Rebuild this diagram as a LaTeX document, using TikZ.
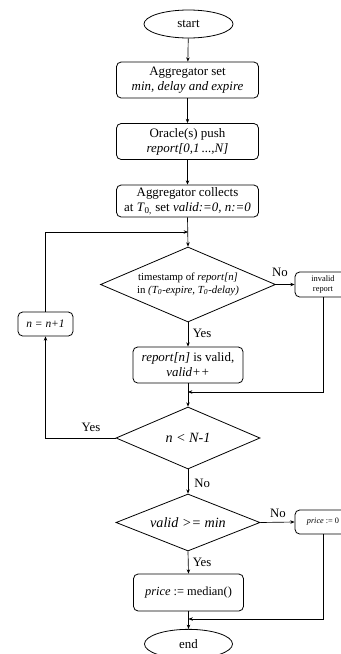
\documentclass[tikz,border=0pt]{standalone}
\usepackage{fontspec}
\setmainfont{Liberation Serif}
\usetikzlibrary{shapes.geometric,arrows.meta}
\tikzset{
  base/.style={draw, line width=0.6pt, inner sep=0pt, align=center, font=\fontsize{9.7}{11.2}\selectfont},
  proc/.style={base, rectangle, rounded corners=3.5pt},
  term/.style={base, ellipse},
  dec/.style={base, diamond},
  arr/.style={-{Stealth[length=3.2pt,width=2.6pt]}, line width=0.5pt},
  ln/.style={line width=0.5pt},
  lbl/.style={inner sep=0pt, font=\fontsize{9.6}{11}\selectfont}
}
\begin{document}
\begin{tikzpicture}[x=0.75pt,y=-0.75pt]
\clip (0,0) rectangle (341,654);
\fill[white] (0,0) rectangle (341,654);
\node[term, minimum width=66.75pt, minimum height=21pt] (start) at (188.5,24) {start};
\node[proc, minimum width=106.5pt, minimum height=27pt] (b1) at (187.5,80)
  {Aggregator set\\\textit{min, delay and expire}};
\node[proc, minimum width=106.5pt, minimum height=27pt] (b2) at (187.5,141.5)
  {Oracle(s) push\\\textit{report[0,1\,...,N]}};
\node[proc, minimum width=106.5pt, minimum height=24pt] (b3) at (187.5,201)
  {Aggregator collects\\at \textit{T}\textsubscript{0,} set \textit{valid:=0, n:=0}};
\node[dec, aspect=2.33, minimum width=131.25pt, minimum height=56.25pt, font=\fontsize{8.1}{9.3}\selectfont] (d1) at (188,284.5)
  {timestamp of \textit{report[n]}\\in \textit{(T\textsubscript{0}-expire, T\textsubscript{0}-delay)}};
\node[proc, minimum width=42pt, minimum height=18.75pt, font=\fontsize{6.3}{7.6}\selectfont] (inv) at (323,284.5)
  {invalid\\report};
\node[proc, minimum width=82.5pt, minimum height=27pt] (val) at (188,365)
  {\textit{report[n]} is valid,\\\textit{valid++}};
\node[dec, aspect=2.32, minimum width=108pt, minimum height=46.5pt, font=\fontsize{10.6}{12}\selectfont] (d2) at (188,438)
  {\textit{n} \textit{<} \textit{N-1}};
\node[proc, minimum width=41.25pt, minimum height=18pt, font=\fontsize{8.6}{10}\selectfont] (nb) at (45.5,324)
  {\textit{n = n+1}};
\node[dec, aspect=2.53, minimum width=108pt, minimum height=42.75pt, font=\fontsize{10.6}{12}\selectfont] (d3) at (188,522.5)
  {\textit{valid >= min}};
\node[proc, minimum width=42pt, minimum height=18pt, font=\fontsize{6.2}{7.5}\selectfont] (pz) at (323,522)
  {\textit{price} := 0};
\node[proc, minimum width=82.5pt, minimum height=27.75pt, font=\fontsize{9.3}{11}\selectfont] (med) at (188.5,592.5)
  {\textit{price} := median()};
\node[term, minimum width=66pt, minimum height=22pt] (end) at (188.5,644) {end};
\coordinate (m0) at (188,232);
\coordinate (m1) at (188,392);
\coordinate (m2) at (188.5,619);
% connectors
\draw[arr] (start) -- (b1);
\draw[arr] (b1) -- (b2);
\draw[arr] (b2) -- (b3);
\draw[arr] (b3.south) -- (d1.north);
\draw[arr] (d1.east) -- (inv.west);
\draw[arr] (d1.south) -- (val.north);
\draw[ln] (val.south) -- (m1);
\draw[arr] (inv.south) |- (m1);
\draw[arr] (m1) -- (d2.north);
\draw[arr] (d2.west) -| (nb.south);
\draw[arr] (nb.north) |- (m0);
\draw[arr] (d2.south) -- (d3.north);
\draw[arr] (d3.east) -- (pz.west);
\draw[arr] (d3.south) -- (med.north);
\draw[ln] (med.south) -- (m2);
\draw[arr] (pz.south) |- (m2);
\draw[arr] (m2) -- (end.north);
% labels
\node[lbl] (l1) at (280,272) {No};
\node[lbl, anchor=west] (l2) at (192.5,333) {Yes};
\node[lbl] (l3) at (91,427) {Yes};
\node[lbl, anchor=west] (l4) at (194,483) {No};
\node[lbl] (l5) at (278,513) {No};
\node[lbl, anchor=west] (l6) at (192.5,562) {Yes};
\end{tikzpicture}
\end{document}
